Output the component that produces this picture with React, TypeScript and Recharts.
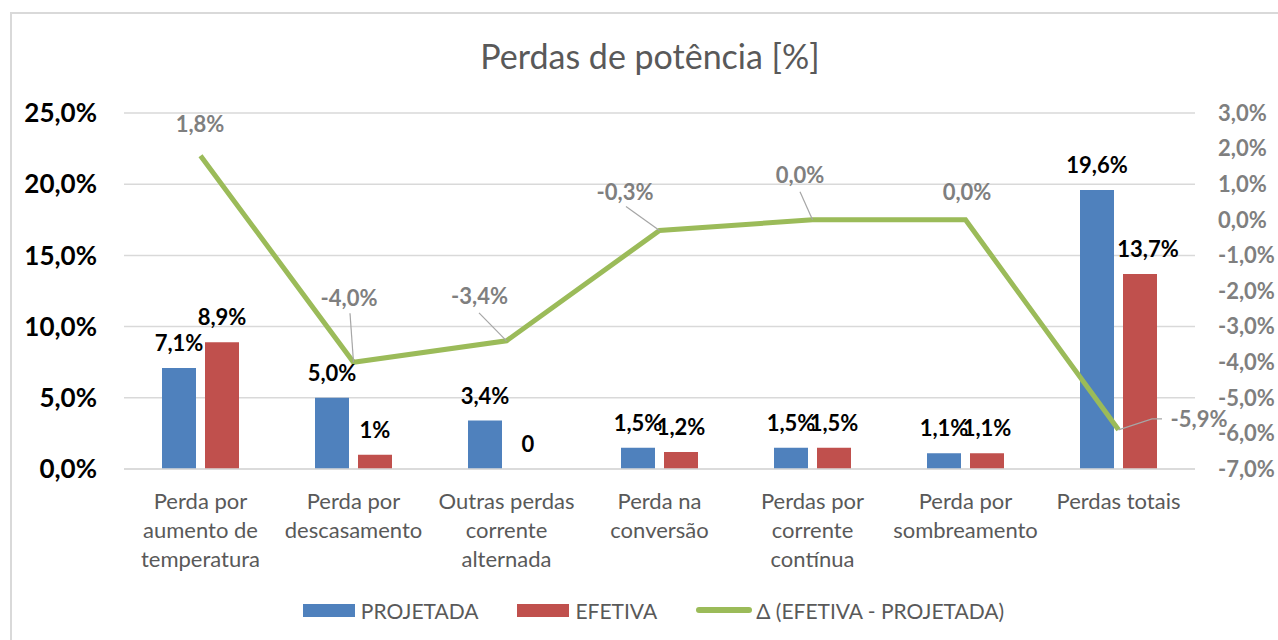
import React from 'react';
import {
  ComposedChart,
  Bar,
  Line,
  XAxis,
  YAxis,
  CartesianGrid,
  LabelList,
  Legend,
} from 'recharts';

// categorias (quebra de linha como no Excel)
const categories = [
  'Perda por\naumento de\ntemperatura',
  'Perda por\ndescasamento',
  'Outras perdas\ncorrente\nalternada',
  'Perda na\nconversão',
  'Perdas por\ncorrente\ncontínua',
  'Perda por\nsombreamento',
  'Perdas totais',
];

// valores em %
const projetada = [7.1, 5.0, 3.4, 1.5, 1.5, 1.1, 19.6];
const efetiva = [8.9, 1.0, 0, 1.2, 1.5, 1.1, 13.7];
const efetivaLabels = ['8,9%', '1%', '0', '1,2%', '1,5%', '1,1%', '13,7%'];
const delta = [1.8, -4.0, -3.4, -0.3, 0.0, 0.0, -5.9];

const leftTicks = [0, 5, 10, 15, 20, 25];
const rightTicks = [-7, -6, -5, -4, -3, -2, -1, 0, 1, 2, 3];

const BLUE = '#4F81BD';
const RED = '#C0504D';
const GREEN = '#9BBB59';
const GRID = '#d9d9d9';
const TEXT = '#595959';
const GRAY = '#7f7f7f';

const BAR_SIZE = 34;
const BAR_GAP = 9;

const series = [
  { name: 'PROJETADA', color: BLUE, type: 'rect' },
  { name: 'EFETIVA', color: RED, type: 'rect' },
  { name: 'Δ (EFETIVA - PROJETADA)', color: GREEN, type: 'line' },
];

// posição manual dos rótulos da linha (relativa ao ponto), como no gráfico original
const deltaLabelLayout: { dx: number; dy: number; leader?: number[][] }[] = [
  { dx: -0.5, dy: -32 },
  { dx: -4.5, dy: -64.5, leader: [[-3.5, -49]] },
  { dx: -27, dy: -45, leader: [[-27.5, -28]] },
  { dx: -34.5, dy: -39, leader: [[-33.5, -24]] },
  { dx: -12.5, dy: -45, leader: [[-12.5, -28]] },
  { dx: 1.5, dy: -28 },
  { dx: 80.5, dy: -11, leader: [[43.5, -11], [33.5, -11]] },
];
// deslocamento horizontal extra dos rótulos EFETIVA
const efetivaLabelDx = [0, 0, 0, 0, 0, 0, 8];

const data = categories.map((name, i) => ({
  name,
  projetada: projetada[i],
  efetiva: efetiva[i],
  delta: delta[i],
}));

const pct = (v: number) => `${v.toFixed(1).replace('.', ',')}%`;

function CategoryTick(props: any) {
  const { x, y, payload } = props;
  const lines = String(payload.value).split('\n');
  return (
    <text x={x} y={y + 40} textAnchor="middle" fill={TEXT} fontSize={22}>
      {lines.map((l, i) => (
        <tspan key={i} x={x} dy={i === 0 ? 0 : 29}>
          {l}
        </tspan>
      ))}
    </text>
  );
}

function DeltaLabel(props: any) {
  const { x, y, value, index } = props;
  const lay = deltaLabelLayout[index] || { dx: 0, dy: -20 };
  let path = '';
  if (lay.leader) {
    const pts = [...lay.leader, [0, 0]];
    path = pts.map((p, i) => `${i === 0 ? 'M' : 'L'}${x + p[0]},${y + p[1]}`).join(' ');
  }
  return (
    <g>
      {path && <path d={path} stroke="#a6a6a6" strokeWidth={1.2} fill="none" />}
      <text
        x={x + lay.dx}
        y={y + lay.dy}
        textAnchor="middle"
        dominantBaseline="central"
        fill={GRAY}
        fontSize={22}
        fontWeight={700}
      >
        {pct(Number(value))}
      </text>
    </g>
  );
}

// rótulo da barra EFETIVA (também para o valor 0, que não gera retângulo)
function EfetivaLabel(props: any) {
  const { x, y, index } = props;
  return (
    <text
      x={x + (BAR_SIZE + BAR_GAP) / 2 + (efetivaLabelDx[index] || 0)}
      y={y - 17}
      textAnchor="middle"
      fill="#000"
      fontSize={22}
      fontWeight={700}
    >
      {efetivaLabels[index]}
    </text>
  );
}

function LegendContent() {
  return (
    <div
      style={{
        height: 60,
        display: 'flex',
        alignItems: 'center',
        justifyContent: 'center',
        paddingLeft: 29,
        fontSize: 21,
        color: TEXT,
      }}
    >
      {series.map((s, i) => (
        <div key={s.name} style={{ display: 'flex', alignItems: 'center', marginLeft: i === 0 ? 0 : 39 }}>
          {s.type === 'rect' ? (
            <div style={{ width: 52, height: 13, background: s.color, marginRight: 6 }} />
          ) : (
            <div style={{ width: 56, height: 6, borderRadius: 3, background: s.color, marginRight: 4 }} />
          )}
          <span>{s.name}</span>
        </div>
      ))}
    </div>
  );
}

export default function App() {
  return (
    <div
      style={{
        position: 'absolute',
        left: 0,
        top: 0,
        width: 1278,
        height: 640,
        background: '#fff',
        overflow: 'hidden',
        fontFamily: 'Lato, sans-serif',
      }}
    >
      <div
        style={{
          position: 'absolute',
          left: 10,
          top: 12,
          width: 1400,
          height: 800,
          border: `2px solid ${GRID}`,
        }}
      />
      <div
        style={{
          position: 'absolute',
          left: 0,
          top: 36,
          width: 1300,
          textAlign: 'center',
          fontSize: 34,
          color: TEXT,
          lineHeight: '40px',
        }}
      >
        Perdas de potência [%]
      </div>
      <ComposedChart
        width={1278}
        height={640}
        data={data}
        margin={{ top: 113, left: 14, right: 13, bottom: 0 }}
        barSize={BAR_SIZE}
        barGap={BAR_GAP}
      >
        <CartesianGrid vertical={false} stroke={GRID} strokeWidth={1.5} yAxisId="left" />
        <XAxis
          dataKey="name"
          height={111}
          axisLine={{ stroke: GRID, strokeWidth: 1.5 }}
          tickLine={false}
          tickSize={0}
          tickMargin={0}
          interval={0}
          tick={<CategoryTick />}
        />
        <YAxis
          yAxisId="left"
          width={110}
          domain={[0, 25]}
          ticks={leftTicks}
          axisLine={false}
          tickLine={false}
          tickSize={0}
          tickMargin={27}
          tickFormatter={pct}
          tick={{ fill: '#000', fontSize: 26, fontWeight: 700 }}
        />
        <YAxis
          yAxisId="right"
          orientation="right"
          width={70}
          domain={[-7, 3]}
          ticks={rightTicks}
          axisLine={false}
          tickLine={false}
          tickSize={0}
          tickMargin={23}
          tickFormatter={pct}
          tick={{ fill: GRAY, fontSize: 22, fontWeight: 700 }}
        />
        <Legend verticalAlign="bottom" wrapperStyle={{ left: 0, width: 1278 }} content={<LegendContent />} />
        <Bar yAxisId="left" dataKey="projetada" name="PROJETADA" fill={BLUE} isAnimationActive={false}>
          <LabelList
            dataKey="projetada"
            position="top"
            offset={17}
            formatter={(v: any) => pct(Number(v))}
            fill="#000"
            fontSize={22}
            fontWeight={700}
          />
        </Bar>
        <Bar yAxisId="left" dataKey="efetiva" name="EFETIVA" fill={RED} isAnimationActive={false} />
        {/* série auxiliar invisível só para posicionar os rótulos EFETIVA */}
        <Line
          yAxisId="left"
          dataKey="efetiva"
          stroke="none"
          dot={false}
          activeDot={false}
          legendType="none"
          isAnimationActive={false}
        >
          <LabelList dataKey="efetiva" content={<EfetivaLabel />} />
        </Line>
        <Line
          yAxisId="right"
          dataKey="delta"
          name="Δ (EFETIVA - PROJETADA)"
          stroke={GREEN}
          strokeWidth={5}
          dot={false}
          activeDot={false}
          isAnimationActive={false}
        >
          <LabelList dataKey="delta" content={<DeltaLabel />} />
        </Line>
      </ComposedChart>
    </div>
  );
}
